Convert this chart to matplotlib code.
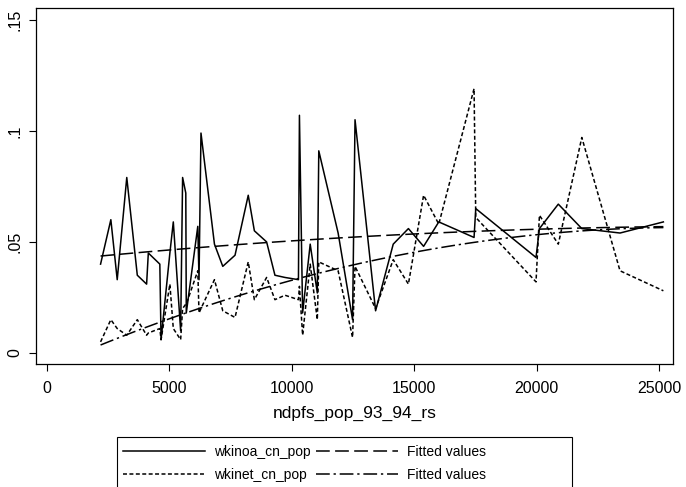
import numpy as np
import matplotlib
matplotlib.use("Agg")
import matplotlib.pyplot as plt
from matplotlib.patches import Rectangle

plt.rcParams['font.family'] = ['Liberation Sans', 'DejaVu Sans']

# per-observation values, sorted by population
ndpfs_pop = [2200, 2620, 2880, 3270, 3700, 4080, 4150, 4620, 4670, 5030,
             5170, 5470, 5550, 5680, 5700, 6170, 6220, 6300, 6850, 7190,
             7690, 8230, 8480, 8980, 9320, 9730, 10280, 10320, 10450, 10760,
             11050, 11110, 11900, 12490, 12590, 13430, 14150, 14770, 15390, 16010,
             17450, 17520, 19980, 20120, 20890, 21850, 23410, 25180]
wkinoa = [0.040, 0.060, 0.033, 0.079, 0.035, 0.031, 0.045, 0.040, 0.006, 0.045,
          0.059, 0.010, 0.079, 0.072, 0.018, 0.057, 0.033, 0.099, 0.049, 0.039,
          0.044, 0.071, 0.055, 0.050, 0.035, 0.034, 0.033, 0.107, 0.018, 0.049,
          0.027, 0.091, 0.054, 0.015, 0.105, 0.019, 0.049, 0.056, 0.048, 0.059,
          0.052, 0.065, 0.043, 0.056, 0.067, 0.056, 0.054, 0.059]
wkinet = [0.005, 0.015, 0.011, 0.008, 0.015, 0.008, 0.009, 0.011, 0.006, 0.031,
          0.011, 0.006, 0.020, 0.022, 0.022, 0.037, 0.018, 0.020, 0.033, 0.019,
          0.016, 0.041, 0.024, 0.034, 0.024, 0.026, 0.024, 0.030, 0.008, 0.040,
          0.015, 0.041, 0.037, 0.007, 0.039, 0.020, 0.042, 0.031, 0.071, 0.058,
          0.119, 0.061, 0.032, 0.062, 0.049, 0.097, 0.037, 0.028]

# fitted values at a few populations
fit_pop = [2200, 5000, 8710, 16500, 20000, 25180]
fit_wkinoa = [0.0438, 0.0462, 0.0494, 0.0544, 0.0558, 0.0568]
fit_wkinet = [0.0039, 0.0147, 0.0291, 0.0480, 0.0534, 0.0564]

x = np.array(ndpfs_pop, dtype=float)

# smooth quadratic curves through the fitted values
xs = np.linspace(min(fit_pop), max(fit_pop), 120)
f1 = np.polyval(np.polyfit(fit_pop, fit_wkinoa, 2), xs)
f2 = np.polyval(np.polyfit(fit_pop, fit_wkinet, 2), xs)

fig = plt.figure(figsize=(6.86, 4.87), dpi=100)
ax = fig.add_axes([0.0532, 0.2526, 0.9283, 0.731])

lw = 1.1
ax.plot(x, wkinoa, color='black', lw=lw, label='wkinoa_cn_pop')
ax.plot(xs, f1, color='black', lw=lw, ls=(0, (9, 3.5)), label='Fitted values')
ax.plot(x, wkinet, color='black', lw=lw, ls=(0, (2.6, 1.6)), label='wkinet_cn_pop')
ax.plot(xs, f2, color='black', lw=lw, ls=(0, (9, 2.5, 1.5, 2.5)),
        label='Fitted values')

ax.set_xlim(-416, 25586)
ax.set_ylim(-0.00495, 0.1553)
ax.set_xticks([0, 5000, 10000, 15000, 20000, 25000])
ax.set_yticks([0, 0.05, 0.1, 0.15])
ax.set_yticklabels(['0', '.05', '.1', '.15'], rotation=90, va='center')
ax.tick_params(direction='out', length=5, width=0.8, labelsize=11.5)
ax.tick_params(axis='x', pad=7)
ax.tick_params(axis='y', pad=5)
for s in ax.spines.values():
    s.set_linewidth(0.9)
ax.set_xlabel('ndpfs_pop_93_94_rs', fontsize=12.5, labelpad=7)

h, l = ax.get_legend_handles_labels()
order = [0, 2, 1, 3]
leg = fig.legend([h[i] for i in order], [l[i] for i in order], ncol=2,
                 loc='upper left', bbox_to_anchor=(115 / 686, 1 - 437 / 487),
                 borderaxespad=0, frameon=False, fontsize=10,
                 handlelength=5.9, handletextpad=0.6, columnspacing=0.45,
                 borderpad=0.6, labelspacing=0.6)
# legend box, running past the bottom edge
fig.add_artist(Rectangle((117 / 686, -0.05), 455 / 686, 0.05 + 50 / 487,
                         transform=fig.transFigure, fill=False,
                         edgecolor='black', lw=0.8))

fig.savefig('out.png', dpi=100)
